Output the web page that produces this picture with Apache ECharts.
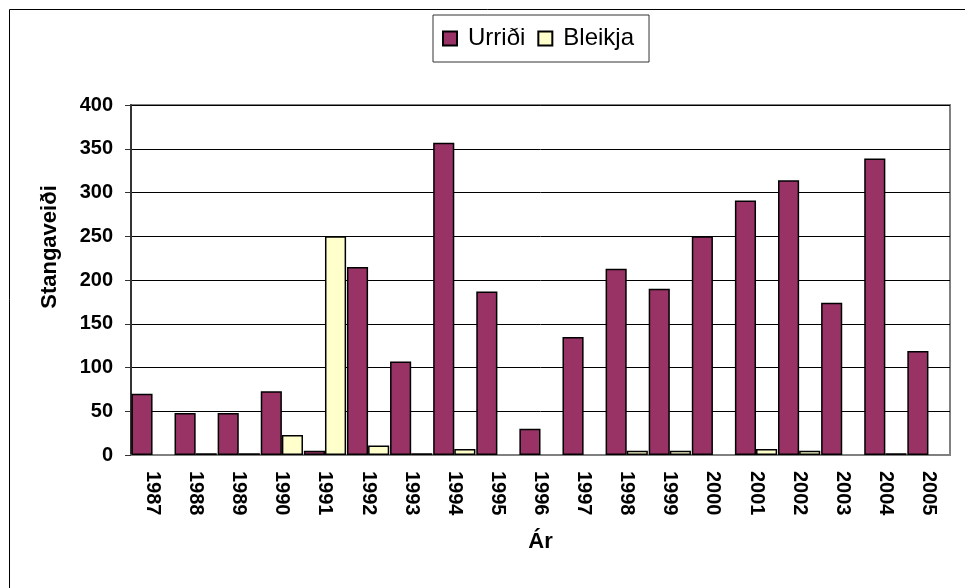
<!DOCTYPE html>
<html>
<head>
<meta charset="utf-8">
<script src="https://cdn.jsdelivr.net/npm/echarts@6/dist/echarts.min.js"></script>
<style>
  html, body { margin: 0; padding: 0; background: #fff; }
  #chart { width: 965px; height: 588px; }
</style>
</head>
<body>
<div id="chart"></div>
<script>
const years = ['1987', '1988', '1989', '1990', '1991', '1992', '1993', '1994', '1995', '1996',
    '1997', '1998', '1999', '2000', '2001', '2002', '2003', '2004', '2005']
// Urriði (trout)
const urridi = [70, 48, 48, 73, 5, 215, 107, 357, 187, 30, 135, 213, 190, 250, 291, 314, 174, 339, 119]
// Bleikja (char), null = no bar
const bleikja = [null, 2, 2, 23, 250, 11, 2, 7, null, null, null, 5, 5, null, 7, 5, null, 2, null]
const yTicks = { min: 0, max: 400, interval: 50 }

const font = 'Arial, "Liberation Sans", sans-serif'
const chart = echarts.init(document.getElementById('chart'))

const option = {
    animation: false,
    textStyle: { fontFamily: font, color: '#000' },
    grid: { left: 131, right: 15, top: 105, bottom: 133, show: true, borderColor: '#808080', borderWidth: 2 },
    legend: {
        left: 433,
        top: 15,
        padding: [9, 15, 9, 9],
        borderColor: '#333',
        borderWidth: 1,
        backgroundColor: '#fff',
        itemWidth: 14,
        itemHeight: 14,
        itemGap: 12,
        icon: 'rect',
        textStyle: { fontSize: 24, fontFamily: font, color: '#000', lineHeight: 29, padding: [0, 0, 0, 6] },
        data: ['Urriði', 'Bleikja']
    },
    xAxis: {
        type: 'category',
        data: years,
        name: 'Ár',
        nameLocation: 'middle',
        nameGap: 76,
        nameTextStyle: { fontSize: 22, fontWeight: 'bold', fontFamily: font, color: '#000' },
        axisLine: { lineStyle: { color: '#808080', width: 2 } },
        axisTick: { length: 6, lineStyle: { color: '#808080', width: 1 } },
        axisLabel: { rotate: -90, interval: 0, margin: 16, fontSize: 20, fontWeight: 'bold', fontFamily: font, color: '#000' }
    },
    yAxis: {
        type: 'value',
        min: yTicks.min,
        max: yTicks.max,
        interval: yTicks.interval,
        axisLine: { show: true, lineStyle: { color: '#333', width: 2 } },
        axisTick: { show: true, length: 6, lineStyle: { color: '#333', width: 1 } },
        axisLabel: { margin: 18, fontSize: 20, fontWeight: 'bold', fontFamily: font, color: '#000' },
        splitLine: { lineStyle: { color: '#000', width: 1 } }
    },
    graphic: [
        {
            type: 'rect',
            left: 7, top: 7,
            shape: { width: 1000, height: 700 },
            style: { fill: 'none', stroke: '#000', lineWidth: 1 },
            silent: true
        },
        {
            type: 'text',
            x: 50, y: 247,
            rotation: Math.PI / 2,
            style: {
                text: 'Stangaveiði',
                fontSize: 22,
                fontWeight: 'bold',
                fontFamily: font,
                fill: '#000',
                align: 'center',
                verticalAlign: 'middle'
            }
        }
    ],
    series: [
        {
            name: 'Urriði',
            type: 'bar',
            data: urridi,
            barGap: '0%',
            barCategoryGap: '2%',
            itemStyle: { color: '#993366', borderColor: '#000', borderWidth: 1.5 }
        },
        {
            name: 'Bleikja',
            type: 'bar',
            data: bleikja,
            itemStyle: { color: '#FFFFCC', borderColor: '#000', borderWidth: 1.5 }
        }
    ]
}

chart.setOption(option)
</script>
</body>
</html>
